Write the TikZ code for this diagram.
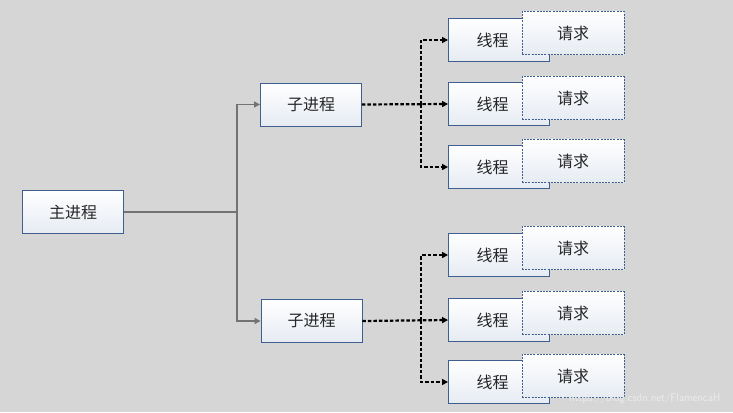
\documentclass[tikz,border=0pt]{standalone}
\usepackage{fontspec}
\setmainfont{Noto Sans CJK SC}
\usetikzlibrary{arrows.meta}
\definecolor{bd}{HTML}{3F5F8F}
\definecolor{bt}{HTML}{E6EBF3}
\begin{document}
\begin{tikzpicture}[x=1pt,y=-1pt,
 box/.style={draw=bd,line width=0.9pt,top color=white,bottom color=bt,minimum width=101pt,minimum height=43pt,inner sep=0pt,font=\fontsize{16}{16}\selectfont,text=black!85},
 req/.style={box,dashed,dash pattern=on 2pt off 1.2pt,line width=0.7pt,minimum width=102pt},
 solid arr/.style={draw=black!55,line width=1.3pt,-{Triangle[length=6pt,width=6pt]}},
 dash arr/.style={draw=black,line width=2.2pt,dash pattern=on 3.5pt off 2pt,-{Triangle[length=6pt,width=6pt]}}]
\fill[fill=black!16] (0,0) rectangle (733,412);
\node[box] (m) at (73,212) {主进程};
\node[box] (s1) at (311,104.5) {子进程};
\node[box] (s2) at (311.5,321) {子进程};
\coordinate (b) at (237,212);
\draw[draw=black!55,line width=1.3pt] (m.east) -- (b);
\draw[solid arr] (b) |- (s1.west);
\draw[solid arr] (b) |- (s2.west);
\foreach \n/\ty/\ry in {t1/40/33,t2/104/98,t3/167/161,t4/255/248,t5/320/313,t6/382/376}{
 \node[box,text width=95pt,align=left] (\n) at (499,\ty) {\hspace{25pt}线程};
 \node[req] (r\n) at (573,\ry) {请求};
}
\coordinate (c1) at (421,104);
\coordinate (c2) at (421,320);
\draw[dash arr] (s1.east) -- (t2.west);
\draw[dash arr] (c1) |- (t1.west);
\draw[dash arr] (c1) |- (t3.west);
\draw[dash arr] (s2.east) -- (t5.west);
\draw[dash arr] (c2) |- (t4.west);
\draw[dash arr] (c2) |- (t6.west);
\node[text=white!85!gray,font=\fontsize{11}{11}\selectfont\sffamily,anchor=east] (w) at (724,399) {https://blog.csdn.net/FlamencaH};
\end{tikzpicture}
\end{document}
